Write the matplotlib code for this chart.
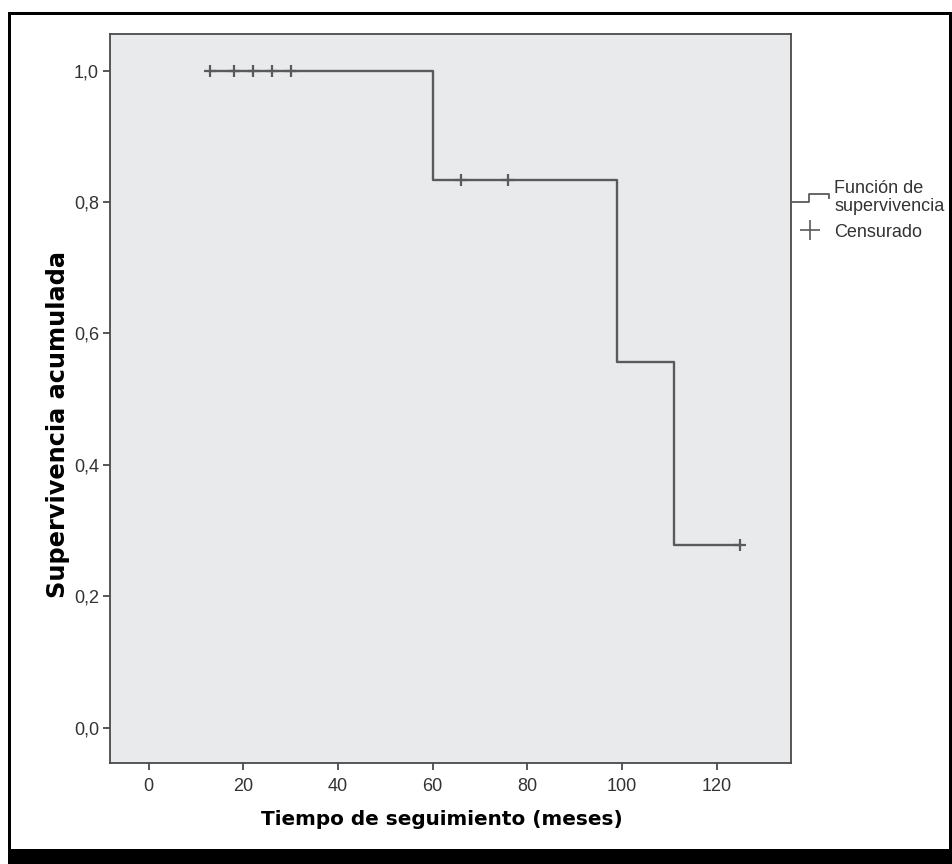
import matplotlib.pyplot as plt
from matplotlib.lines import Line2D
from matplotlib.patches import Rectangle
from matplotlib.legend_handler import HandlerBase
from matplotlib.ticker import FuncFormatter

# =========================
# datos (Kaplan-Meier)
# =========================
step_times = [13, 60, 99, 111, 125]
step_surv = [1.0, 0.833, 0.556, 0.278, 0.278]

cens_times = [13, 18, 22, 26, 30, 66, 76, 125]
cens_surv = [1.0, 1.0, 1.0, 1.0, 1.0, 0.833, 0.833, 0.278]

x_ticks = [0, 20, 40, 60, 80, 100, 120]
y_ticks = [0.0, 0.2, 0.4, 0.6, 0.8, 1.0]

LINE_COLOR = "#585a5c"
BG = "#E9EAEB"
W, H = 952, 864

plt.rcParams["font.family"] = ["Liberation Sans", "DejaVu Sans"]

fig = plt.figure(figsize=(W / 100, H / 100), dpi=100)
fig.patch.set_facecolor("white")

# marco negro
fig.patches.append(Rectangle((8 / W, 0), (W - 8) / W, 852 / H,
                             transform=fig.transFigure, facecolor="black",
                             edgecolor="none", zorder=-3))
fig.patches.append(Rectangle((11 / W, 15 / H), (949 - 11) / W, (849 - 15) / H,
                             transform=fig.transFigure, facecolor="white",
                             edgecolor="none", zorder=-2))

ax = fig.add_axes([110 / W, 101 / H, 681 / W, 729 / H])
ax.set_facecolor(BG)

ax.step(step_times, step_surv, where="post", color=LINE_COLOR, lw=1.7)
ax.plot(cens_times, cens_surv, ls="none", marker="+", ms=9, mew=1.6,
        color=LINE_COLOR)

ax.set_xlim(-8.15, 135.7)
ax.set_ylim(-0.054, 1.056)
ax.set_xticks(x_ticks)
ax.set_yticks(y_ticks)
ax.yaxis.set_major_formatter(FuncFormatter(lambda v, p: f"{v:.1f}".replace(".", ",")))

for s in ax.spines.values():
    s.set_color("#4a4a4a")
    s.set_linewidth(1.3)
ax.tick_params(direction="out", length=5, width=1.3, color="#4a4a4a",
               labelsize=13, labelcolor="#333333")
ax.tick_params(axis="x", pad=6)
ax.tick_params(axis="y", pad=3)

fig.text(442 / W, 1 - 825 / H, "Tiempo de seguimiento (meses)",
         ha="center", va="baseline", fontsize=14.4, fontweight="bold",
         family="DejaVu Sans")
fig.text(58 / W, 1 - 424 / H, "Supervivencia acumulada", rotation=90,
         ha="center", va="center", fontsize=17.3, fontweight="bold",
         family="DejaVu Sans")


# leyenda con escalón
class StepHandler(HandlerBase):
    def create_artists(self, legend, orig_handle, xdescent, ydescent,
                       width, height, fontsize, trans):
        x0 = -xdescent
        ym = height / 2 - ydescent
        dy = 0.3 * height
        xs = [x0, x0 + 0.47 * width, x0 + 0.47 * width, x0 + width, x0 + width]
        ys = [ym - dy, ym - dy, ym + dy, ym + dy, ym + dy - 0.3 * height]
        ln = Line2D(xs, ys, color=LINE_COLOR, lw=1.3, transform=trans)
        return [ln]


surv_handle = Line2D([], [], color=LINE_COLOR)
cens_handle = Line2D([], [], ls="none", marker="+", ms=14, mew=1.2,
                     color=LINE_COLOR)
leg = fig.legend([surv_handle, cens_handle],
                 ["Función de\nsupervivencia", "Censurado"],
                 handler_map={surv_handle: StepHandler()},
                 loc="upper left", bbox_to_anchor=(791 / W, 1 - 180 / H),
                 frameon=False, fontsize=13, handlelength=2.1,
                 handletextpad=0.3, borderpad=0, borderaxespad=0,
                 labelspacing=0.46, labelcolor="#333333")
for t in leg.get_texts():
    t.set_linespacing(1.1)

fig.savefig("out.png", dpi=100)
